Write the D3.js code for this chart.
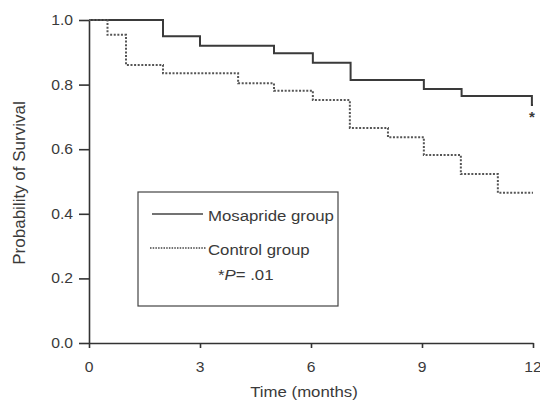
<!DOCTYPE html>
<html>
<head>
<meta charset="utf-8">
<script src="https://cdn.jsdelivr.net/npm/d3@7"></script>
<style>
  body { margin: 0; background: #fff; }
  text { font-family: "Liberation Sans", Arial, sans-serif; fill: #3a3a3a; }
</style>
</head>
<body>
<div id="chart"></div>
<script>
// step times (months) and survival values
var mosaTimes = [0, 2, 3, 5, 6.05, 7.07, 9.05, 10.07, 11.97, 12];
var mosaSurv  = [1.0, 0.95, 0.92, 0.897, 0.868, 0.814, 0.786, 0.765, 0.737, 0.737];

var ctrlTimes = [0, 0.5, 1.0, 2.0, 4.03, 5.0, 6.05, 7.05, 8.08, 9.05, 10.05, 11.05, 12];
var ctrlSurv  = [1.0, 0.954, 0.861, 0.835, 0.804, 0.781, 0.752, 0.666, 0.637, 0.582, 0.523, 0.465, 0.465];

var xTicks = [0, 3, 6, 9, 12];
var yTicks = [0, 0.2, 0.4, 0.6, 0.8, 1.0];
var legendLabels = ["Mosapride group", "Control group"];

var svg = d3.select('#chart')
  .append('svg')
  .attr('width', 540)
  .attr('height', 404);

var xScale = d3.scaleLinear().domain([0, 12]).range([89, 533]);
var yScale = d3.scaleLinear().domain([0, 1]).range([343, 20]);

// text that is a little wider than the font, like the scanned figure
function wideText(parent, x, y, anchor, size, str) {
  return parent.append("g")
    .attr("transform", "translate(" + x + "," + y + ") scale(1.12,1)")
    .append("text")
    .attr("text-anchor", anchor)
    .attr("font-size", size + "px")
    .text(str);
}

// y axis
var yAxis = svg.append("g")
  .attr("transform", "translate(89,0)")
  .call(d3.axisLeft(yScale).tickValues(yTicks).tickFormat("").tickSize(10).tickSizeOuter(0));
yAxis.select(".domain").attr("stroke", "#333").attr("stroke-width", 1.6);
yAxis.selectAll(".tick line").attr("stroke", "#333").attr("stroke-width", 1.6);
yTicks.forEach(v => wideText(svg, 73, yScale(v) + 5, "end", 14, d3.format(".1f")(v)));

// x axis
var xAxis = svg.append("g")
  .attr("transform", "translate(0,343)")
  .call(d3.axisBottom(xScale).tickValues(xTicks).tickFormat("").tickSize(5).tickSizeOuter(0));
xAxis.select(".domain").attr("stroke", "#333").attr("stroke-width", 1.6);
xAxis.selectAll(".tick line").attr("stroke", "#333").attr("stroke-width", 1.6);
xTicks.forEach(v => wideText(svg, xScale(v), 372, "middle", 14, v));

// axis labels
svg.append("text")
  .attr("transform", "rotate(-90)")
  .attr("x", -183)
  .attr("y", 25)
  .attr("text-anchor", "middle")
  .attr("font-size", "17px")
  .text("Probability of Survival");

wideText(svg, 304, 397, "middle", 15, "Time (months)");

var line = d3.line()
  .x(d => xScale(d[0]))
  .y(d => yScale(d[1]))
  .curve(d3.curveStepAfter);

svg.append("path")
  .datum(mosaTimes.map((t, i) => [t, mosaSurv[i]]))
  .attr("d", line)
  .attr("fill", "none")
  .attr("stroke", "#3a3a3a")
  .attr("stroke-width", 2);

svg.append("path")
  .datum(ctrlTimes.map((t, i) => [t, ctrlSurv[i]]))
  .attr("d", line)
  .attr("fill", "none")
  .attr("stroke", "#555")
  .attr("stroke-width", 2)
  .attr("stroke-dasharray", "2,1.6");

// significance marker
svg.append("text")
  .attr("x", xScale(12) - 1)
  .attr("y", yScale(0.737) + 17)
  .attr("text-anchor", "middle")
  .attr("font-size", "15px")
  .attr("font-weight", "bold")
  .text("*");

// legend
var legend = svg.append("g");
legend.append("rect")
  .attr("x", 138).attr("y", 192)
  .attr("width", 200).attr("height", 114)
  .attr("fill", "none")
  .attr("stroke", "#444")
  .attr("stroke-width", 1.2);

var lineY = [214, 248];
legendLabels.forEach((label, i) => {
  legend.append("line")
    .attr("x1", i === 0 ? 152 : 150).attr("x2", i === 0 ? 203 : 206)
    .attr("y1", lineY[i]).attr("y2", lineY[i])
    .attr("stroke", "#444")
    .attr("stroke-width", 1.5)
    .attr("stroke-dasharray", i === 0 ? null : "1.5,1.2");
  wideText(legend, 208, lineY[i] + 7, "start", 15, label);
});

var pText = legend.append("g")
  .attr("transform", "translate(218,280) scale(1.12,1)")
  .append("text")
  .attr("font-size", "15px");
pText.append("tspan").text("*");
pText.append("tspan").attr("font-style", "italic").text("P");
pText.append("tspan").text("= .01");
</script>
</body>
</html>
